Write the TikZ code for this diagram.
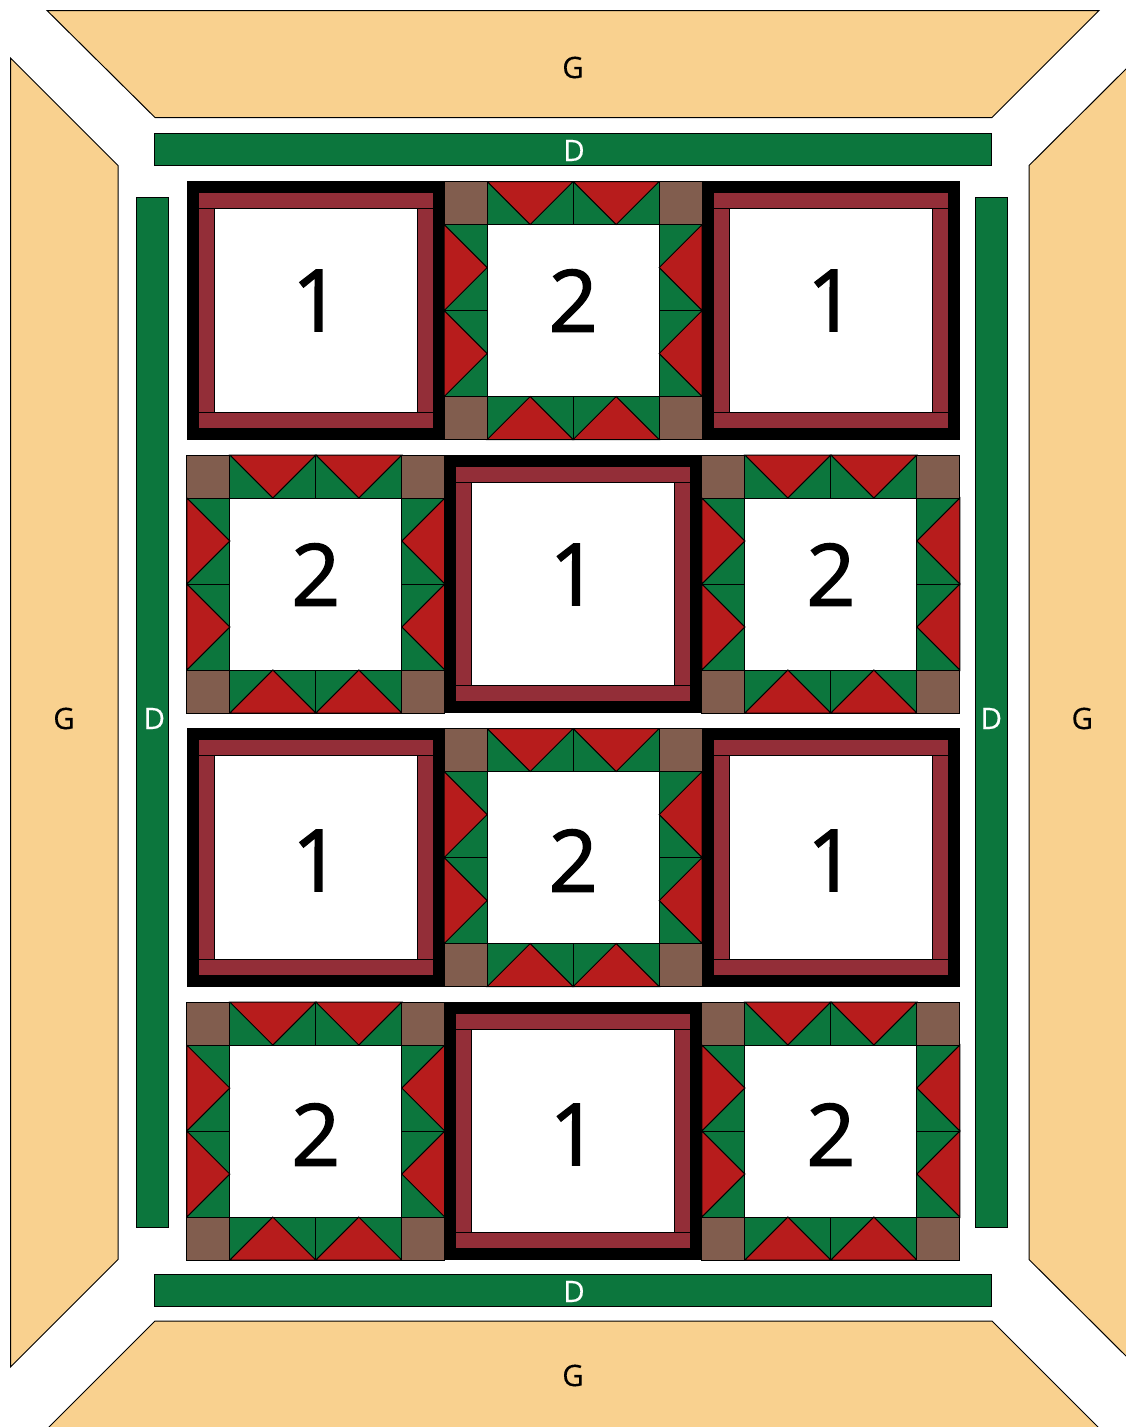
\documentclass[tikz,border=0pt]{standalone}
\usepackage{fontspec}
\setmainfont{Open Sans}
\newfontfamily\digitfont[FakeBold=1.5]{Open Sans}
\newfontfamily\labelfont[FakeBold=0.3]{Open Sans}
\definecolor{tan}{HTML}{F9D18F}
\definecolor{grn}{HTML}{0C763D}
\definecolor{rd}{HTML}{B71C1C}
\definecolor{mar}{HTML}{932E38}
\definecolor{brn}{HTML}{815D4E}
\tikzset{
  x=1pt,y=-1pt,
  ol/.style={draw=black,line width=1pt,line join=miter},
  tanpart/.style={ol,fill=tan},
  bar/.style={ol,fill=grn},
  redtri/.style={ol,fill=rd},
  grnrect/.style={ol,fill=grn},
  corner/.style={ol,fill=brn},
  band/.style={ol,line width=0.7pt,fill=mar},
  glabel/.style={font=\labelfont\fontsize{29.5}{29.5}\selectfont,text=black,inner sep=0pt},
  dlabel/.style={font=\labelfont\fontsize{29.5}{29.5}\selectfont,text=white,inner sep=0pt},
  digit/.style={font=\digitfont\fontsize{86}{86}\selectfont,text=black,inner sep=0pt}
}
\newcommand{\goosetop}{%
  \foreach \u in {-86,0}{
    \draw[grnrect] (\u,-129) rectangle ++(86,43);
    \draw[redtri] (\u,-129) -- ++(86,0) -- ++(-43,43) -- cycle;
  }%
}
\newcommand{\blockone}[4]{% cx, cy, digit x, digit y
  \begin{scope}[shift={(#1,#2)}]
    \fill[black] (-129,-129.2) rectangle (129,129.2);
    \draw[band] (-117.6,-117.8) rectangle (117.6,-102);
    \draw[band] (-117.6,101.6) rectangle (117.6,117.6);
    \draw[band] (-117.6,-102) rectangle (-101.6,101.6);
    \draw[band] (101.6,-102) rectangle (117.6,101.6);
    \draw[ol,line width=0.7pt,fill=white] (-101.6,-102) rectangle (101.6,101.6);
  \end{scope}
  \node[digit] (d#3x#4) at (#3,#4) {1};
}
\newcommand{\blocktwo}[3]{%
  \begin{scope}[shift={(#1,#2)}]
    \fill[white] (-86,-86) rectangle (86,86);
    \foreach \r in {0,90,180,270}{
      \begin{scope}[rotate=\r]
        \goosetop
        \draw[corner] (-129,-129) rectangle (-86,-86);
      \end{scope}
    }
    \draw[ol] (-86,-86) rectangle (86,86);
  \end{scope}
  \node[digit] (d#1x#3) at (#1,#3) {2};
}
\begin{document}
\begin{tikzpicture}
\useasboundingbox (0,0) rectangle (1126,1427);
\clip (0,0) rectangle (1126,1427);
\fill[white] (0,0) rectangle (1126,1427);
\draw[tanpart] (47,10.5) -- (1099,10.5) -- (992,117.5) -- (155,117.5) -- cycle;
\draw[tanpart] (155,1321) -- (992,1321) -- (1100,1429) -- (47,1429) -- cycle;
\draw[tanpart] (10.5,58) -- (118,165.5) -- (118,1259.5) -- (10.5,1367) -- cycle;
\draw[tanpart] (1029,165.5) -- (1130,65) -- (1130,1360) -- (1029,1259.5) -- cycle;
\node[glabel] (gtop) at (573,67.5) {G};
\node[glabel] (gbot) at (573,1375.5) {G};
\node[glabel] (gleft) at (64,718.5) {G};
\node[glabel] (gright) at (1082.3,718.5) {G};
\draw[bar] (154.6,133.5) rectangle (991.6,165.7);
\draw[bar] (154.6,1274) rectangle (991.6,1306.3);
\draw[bar] (136,197) rectangle (168.6,1227.5);
\draw[bar] (975,197) rectangle (1007.6,1227.5);
\node[dlabel] (dtop) at (574,150.5) {D};
\node[dlabel] (dbot) at (574,1291.5) {D};
\node[dlabel] (dleft) at (154.3,718.5) {D};
\node[dlabel] (dright) at (991.3,718.5) {D};
\blockone{315.8}{310.5}{316.5}{300.5}
\blocktwo{573.2}{310.5}{300.5}
\blockone{830.7}{310.5}{831.5}{300.5}
\blocktwo{315.8}{584}{574.5}
\blockone{573.2}{584}{574}{574.5}
\blocktwo{830.9}{584}{574.5}
\blockone{315.8}{857.5}{316.5}{860.5}
\blocktwo{573.2}{857.5}{860.5}
\blockone{830.7}{857.5}{831.5}{860.5}
\blocktwo{315.8}{1131}{1134.5}
\blockone{573.2}{1131}{574}{1134.5}
\blocktwo{830.9}{1131}{1134.5}
\end{tikzpicture}
\end{document}
